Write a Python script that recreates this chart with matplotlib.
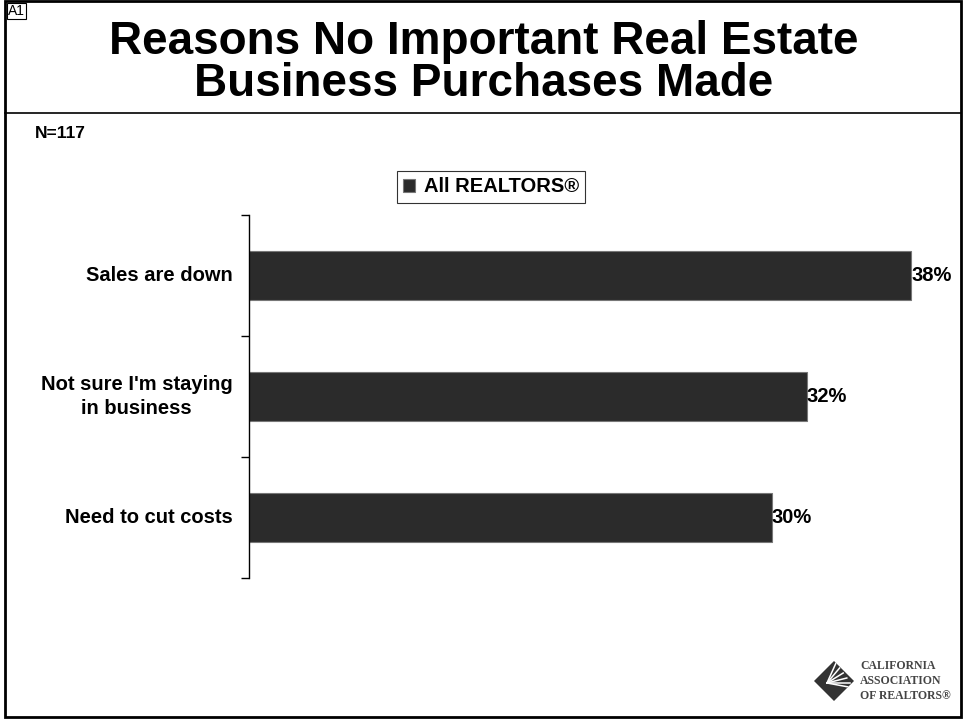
import matplotlib.pyplot as plt
from matplotlib.patches import Rectangle, Polygon
from matplotlib.lines import Line2D

categories = ["Sales are down", "Not sure I'm staying\nin business", "Need to cut costs"]
values = [38, 32, 30]
series_name = "All REALTORS\u00ae"
title = "Reasons No Important Real Estate\nBusiness Purchases Made"
sample_note = "N=117"

plt.rcParams["font.family"] = ["Liberation Sans", "DejaVu Sans"]

W, H = 966, 721
fig = plt.figure(figsize=(W / 100, H / 100), dpi=100)


def fx(px):
    return px / W


def fy(py):
    return 1 - py / H


# frame and header separator
fig.add_artist(Rectangle((fx(5), fy(717)), fx(961) - fx(5), fy(1) - fy(717),
                         transform=fig.transFigure, fill=False, lw=2, ec="black"))
fig.add_artist(Line2D([fx(5), fx(961)], [fy(113), fy(113)],
                      transform=fig.transFigure, lw=1.2, color="black"))
fig.text(fx(8), fy(11), "A1", fontsize=10, ha="left", va="center",
         bbox=dict(boxstyle="square,pad=0.1", fc="white", ec="black", lw=0.8))

fig.text(fx(484), fy(63), title, fontsize=33, fontweight="bold",
         ha="center", va="center", linespacing=0.97)
fig.text(fx(35), fy(133), sample_note, fontsize=12.5, fontweight="bold",
         ha="left", va="center")

ax = fig.add_axes([fx(249), fy(578), fx(946) - fx(249), fy(215) - fy(578)])
ypos = list(range(len(categories)))
bars = ax.barh(ypos, values, height=0.41, color="#2b2b2b",
               edgecolor="#777777", linewidth=0.8, label=series_name)
ax.set_ylim(len(categories) - 0.5, -0.5)
ax.set_xlim(0, 40)
ax.set_yticks([y + 0.5 for y in [-1] + ypos])
ax.set_yticklabels([])
ax.tick_params(axis="y", length=6, width=1, direction="out")
for y, lab in zip(ypos, categories):
    ax.text(-0.95, y, lab, ha="right", va="center", fontsize=14.5,
            fontweight="bold", linespacing=1.4, multialignment="center")
ax.set_xticks([])
for side in ["top", "right", "bottom"]:
    ax.spines[side].set_visible(False)
ax.spines["left"].set_linewidth(1)
for b, v in zip(bars, values):
    ax.text(v, b.get_y() + b.get_height() / 2, f"{v}%",
            ha="left", va="center", fontsize=14.5, fontweight="bold")

leg = fig.legend(handles=[bars], labels=[series_name], loc="center",
                 bbox_to_anchor=(fx(491), fy(187)), frameon=True, fancybox=False,
                 edgecolor="black", prop=dict(weight="bold", size=14.5),
                 handlelength=0.6, handleheight=0.6, handletextpad=0.4,
                 borderpad=0.3, borderaxespad=0)
leg.get_frame().set_linewidth(0.8)

# association mark, lower right: diamond with a fan of white stripes
cx, cy = fx(834), fy(681)
rx, ry = fx(20), fx(20) * W / H
diamond = Polygon([(cx, cy + ry), (cx + rx, cy), (cx, cy - ry), (cx - rx, cy)],
                  closed=True, transform=fig.transFigure, fc="#333333", ec="none")
fig.add_artist(diamond)
ox, oy = cx - 0.35 * rx, cy - 0.1 * ry
for k in range(6):
    t = k / 5
    ex = cx + rx * (0.1 + 0.9 * t)
    ey = cy + ry * (0.9 - 0.9 * t) - ry * 0.35 * t
    stripe = Line2D([ox, ex], [oy, ey], transform=fig.transFigure,
                    color="white", lw=1.1)
    stripe.set_clip_path(diamond)
    fig.add_artist(stripe)
fig.text(fx(860), fy(681), "CALIFORNIA\nASSOCIATION\nOF REALTORS\u00ae",
         fontsize=8.5, family=["Liberation Serif", "DejaVu Serif"], fontweight="bold",
         color="#444444", ha="left", va="center", linespacing=1.3)

fig.savefig("out.png", dpi=100)
